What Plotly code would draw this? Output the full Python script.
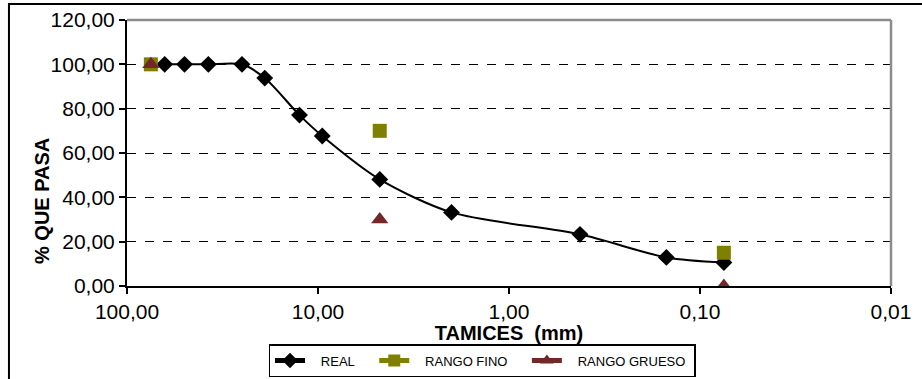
import plotly.graph_objects as go

# Data
real_x = [63.5, 50, 37.5, 25, 19, 12.5, 9.5, 4.75, 2.0, 0.425, 0.15, 0.075]
real_y = [100, 100, 100, 100, 93.8, 77.1, 67.7, 48.1, 33.2, 23.3, 12.9, 10.6]
fino_x = [75, None, 4.75, None, 0.075]
fino_y = [100, None, 70, None, 15]
grueso_x = [75, None, 4.75, None, 0.075]
grueso_y = [100, None, 30, None, 0]
x_tickvals = [100, 10, 1, 0.1, 0.01]
x_ticktext = ["100,00", "10,00", "1,00", "0,10", "0,01"]
y_tickvals = [0, 20, 40, 60, 80, 100, 120]
series_names = ["REAL", "RANGO FINO", "RANGO GRUESO"]

FONT = "Liberation Sans, Arial, sans-serif"
NB = "\u00a0"

fig = go.Figure()
fig.add_trace(go.Scatter(
    x=real_x, y=real_y, name=NB * 3 + series_names[0] + NB * 4, mode="lines+markers",
    line=dict(color="black", width=2, shape="spline", smoothing=0.8),
    marker=dict(symbol="diamond", size=13, color="black"),
))
fig.add_trace(go.Scatter(
    x=fino_x, y=fino_y, name=NB * 3 + series_names[1] + NB * 4, mode="lines+markers",
    connectgaps=False,
    line=dict(color="#808000", width=2),
    marker=dict(symbol="square", size=14, color="#808000"),
))
fig.add_trace(go.Scatter(
    x=grueso_x, y=grueso_y, name=NB * 3 + series_names[2] + NB, mode="lines+markers",
    connectgaps=False,
    line=dict(color="#722828", width=2),
    marker=dict(symbol="triangle-up", size=15, color="#722828"),
))

fig.update_layout(
    width=922, height=379,
    margin=dict(l=127, r=31, t=20, b=93, autoexpand=False),
    paper_bgcolor="white", plot_bgcolor="white",
    separators=",.",
    font=dict(family=FONT, size=20, color="black"),
    showlegend=True,
    legend=dict(
        orientation="h", xref="container", yref="container",
        x=482 / 922, xanchor="center", y=(379 - 344) / 379, yanchor="top",
        bordercolor="black", borderwidth=1.5, bgcolor="white",
        font=dict(family=FONT, size=13, color="black"),
        tracegroupgap=0, itemsizing="constant",
    ),
    xaxis=dict(
        type="log", range=[2, -2], automargin=False,
        tickvals=x_tickvals, ticktext=x_ticktext,
        ticks="outside", ticklen=6, tickwidth=1.5, tickcolor="black",
        showline=True, linecolor="black", linewidth=2,
        showgrid=False, zeroline=False,
        tickfont=dict(size=21),
        title=dict(text="<b>TAMICES \u00a0(mm)</b>", font=dict(size=20), standoff=9),
    ),
    yaxis=dict(
        range=[0, 120], tickvals=y_tickvals, tickformat=".2f", automargin=False,
        ticks="outside", ticklen=6, tickwidth=1.5, tickcolor="black",
        showline=True, linecolor="black", linewidth=2,
        showgrid=True, gridcolor="black", gridwidth=1, griddash="dash",
        zeroline=False,
        tickfont=dict(size=21),
    ),
    annotations=[dict(
        text="<b>% QUE PASA</b>", textangle=-90,
        xref="paper", yref="paper", x=(42 - 127) / 764, y=(286 - 201) / 266,
        xanchor="center", yanchor="middle", showarrow=False,
        font=dict(size=20, color="black"),
    )],
    shapes=[
        dict(type="line", xref="paper", yref="paper", x0=0, x1=1, y0=1, y1=1,
             line=dict(color="#8c8c8c", width=2.5)),
        dict(type="line", xref="paper", yref="paper", x0=1, x1=1, y0=0, y1=1,
             line=dict(color="#8c8c8c", width=2.5)),
        dict(type="rect", xref="paper", yref="paper", x0=-0.1545, x1=1.1, y0=-0.4, y1=1.0602,
             line=dict(color="black", width=2)),
    ],
)

fig.write_html("out.html")
